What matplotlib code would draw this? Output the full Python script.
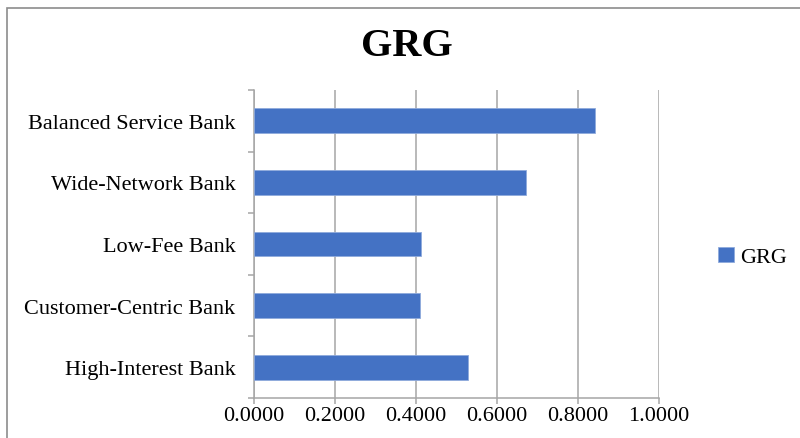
import matplotlib.pyplot as plt
from matplotlib.patches import Rectangle
from matplotlib.ticker import FixedLocator, FormatStrFormatter

# GRG score per bank, listed bottom to top
banks = ["High-Interest Bank", "Customer-Centric Bank", "Low-Fee Bank",
         "Wide-Network Bank", "Balanced Service Bank"]
grg = [0.529, 0.410, 0.413, 0.671, 0.841]
x_ticks = [0.0, 0.2, 0.4, 0.6, 0.8, 1.0]

plt.rcParams["font.family"] = ["Liberation Serif", "DejaVu Serif"]

fig = plt.figure(figsize=(8, 4.39), dpi=100)
ax = fig.add_axes([0.317, 0.0911, 0.507, 0.7016])

pos = list(range(len(banks)))
ax.barh(pos, grg, height=0.4, color="#4472C4", edgecolor="#8FAADC",
        linewidth=0.6, label="GRG", zorder=3)

ax.set_xlim(0, 1.0)
ax.set_ylim(-0.5, len(banks) - 0.5)
ax.set_xticks(x_ticks)
ax.xaxis.set_major_formatter(FormatStrFormatter("%.4f"))
ax.set_yticks(pos)
ax.set_yticklabels(banks)
ax.yaxis.set_minor_locator(FixedLocator([p - 0.5 for p in pos] + [len(banks) - 0.5]))

ax.grid(axis="x", color="#A6A6A6", linewidth=1.1, zorder=0)
for s in ["top", "right"]:
    ax.spines[s].set_visible(False)
for s in ["left", "bottom"]:
    ax.spines[s].set_color("#A6A6A6")
    ax.spines[s].set_linewidth(1.1)

ax.tick_params(axis="y", which="major", length=0, pad=13, labelsize=16)
ax.tick_params(axis="y", which="minor", length=4.5, width=1.1, color="#A6A6A6")
ax.tick_params(axis="x", length=4, width=1.1, color="#A6A6A6", pad=2, labelsize=16)

fig.text(0.509, 0.893, "GRG", ha="center", va="center", fontsize=29, fontweight="bold")

fig.legend(loc="center left", bbox_to_anchor=(0.898, 0.412), frameon=False,
           fontsize=16, handlelength=0.7, handleheight=0.7, handletextpad=0.3,
           borderpad=0, borderaxespad=0)

# chart area frame
fig.patches.append(Rectangle((7 / 800, -0.2), 1.2, 1.2 - 9 / 439,
                             transform=fig.transFigure, fill=False,
                             edgecolor="#8C8C8C", linewidth=1.2))

fig.savefig("out.png", dpi=100)
